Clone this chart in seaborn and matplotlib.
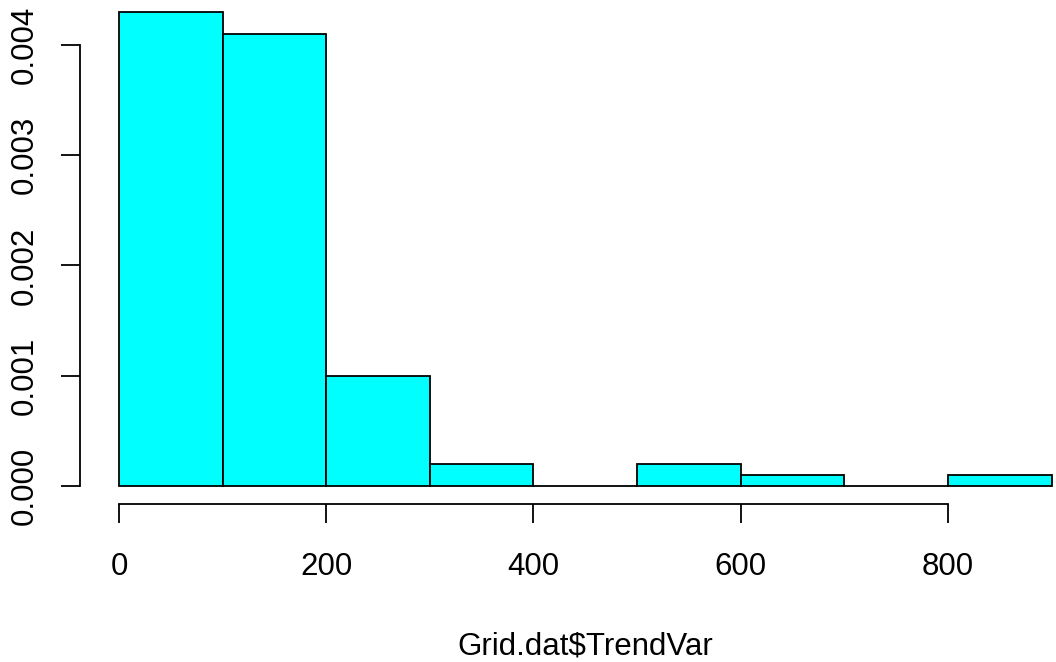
import numpy as np
import pandas as pd
import matplotlib
matplotlib.use("Agg")
import matplotlib.pyplot as plt
import seaborn as sns

# Histogram of Grid.dat$TrendVar: bin edges and counts per bin
bin_edges = [0, 100, 200, 300, 400, 500, 600, 700, 800, 900]
bin_counts = [43, 41, 10, 2, 0, 2, 1, 0, 1]
x_ticks = [0, 200, 400, 600, 800]
y_ticks = [0.000, 0.001, 0.002, 0.003, 0.004]
x_label = "Grid.dat$TrendVar"

sns.set_style("white")
plt.rcParams["font.family"] = ["Liberation Sans", "DejaVu Sans"]

mids = [(a + b) / 2 for a, b in zip(bin_edges[:-1], bin_edges[1:])]
df = pd.DataFrame({"TrendVar": mids, "count": bin_counts})

W, H = 1056, 662
fig = plt.figure(figsize=(W / 100, H / 100), dpi=100)
ax = fig.add_axes([80 / W, 1 - 504.3 / H, 1 - 80 / W, 504.3 / H])

sns.histplot(data=df, x="TrendVar", weights="count", bins=bin_edges,
             stat="density", color="#00FFFF", edgecolor="black",
             linewidth=1.3, alpha=1, ax=ax)

ax.set_xlim(-37.6, 904.2)
ax.set_ylim(-0.000169, 0.004411)

for side in ("top", "right"):
    ax.spines[side].set_visible(False)
for side in ("left", "bottom"):
    ax.spines[side].set_color("black")
    ax.spines[side].set_linewidth(1.3)
ax.spines["left"].set_bounds(0, 0.004)
ax.spines["bottom"].set_bounds(0, 800)

ax.set_xticks(x_ticks)
ax.set_xticklabels([str(v) for v in x_ticks])
ax.set_yticks(y_ticks)
ax.set_yticklabels([f"{v:.3f}" for v in y_ticks], rotation=90, va="center")

ax.tick_params(axis="both", which="major", bottom=True, left=True,
               direction="out", length=14, width=1.3,
               color="black", labelsize=22.5, labelcolor="black")
ax.tick_params(axis="x", pad=20)
ax.tick_params(axis="y", pad=15)
ax.grid(False)

ax.set_ylabel("")
ax.set_xlabel(x_label, fontsize=22.5, color="black", labelpad=36)
# centre the axis title on the full plotting region (which runs past the figure edge)
ax.xaxis.label.set_x((585 - 80) / (W - 80))

fig.savefig("out.png", dpi=100)
